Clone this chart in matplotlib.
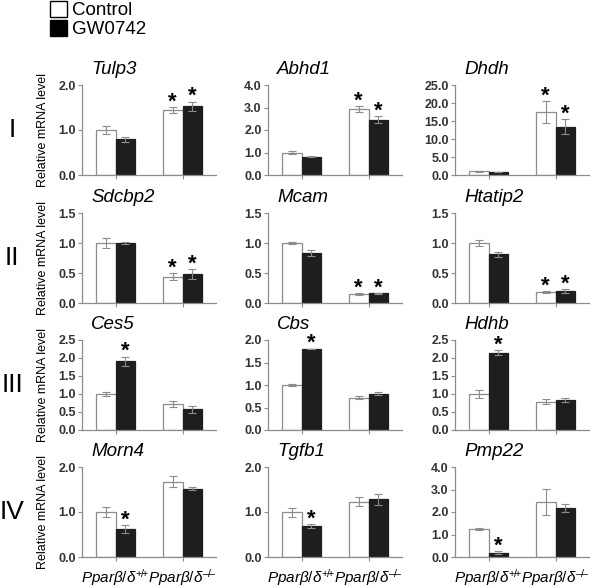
import matplotlib
matplotlib.use('Agg')
import matplotlib.pyplot as plt
from matplotlib.patches import Patch
from matplotlib.ticker import FormatStrFormatter
import numpy as np

plt.rcParams['font.family'] = ['Liberation Sans', 'DejaVu Sans']
plt.rcParams['mathtext.fontset'] = 'custom'
plt.rcParams['mathtext.rm'] = 'Liberation Sans'
plt.rcParams['mathtext.it'] = 'Liberation Sans:italic'

# values: [Ppar+/+, Ppar-/-] for each gene
genes = ['Tulp3', 'Abhd1', 'Dhdh', 'Sdcbp2', 'Mcam', 'Htatip2',
         'Ces5', 'Cbs', 'Hdhb', 'Morn4', 'Tgfb1', 'Pmp22']
control = [[1.0, 1.44], [1.0, 2.92], [1.0, 17.5],
           [1.0, 0.44], [1.0, 0.15], [1.0, 0.18],
           [1.0, 0.72], [1.0, 0.72], [1.0, 0.79],
           [1.0, 1.67], [1.0, 1.23], [1.26, 2.46]]
control_err = [[0.08, 0.07], [0.05, 0.13], [0.1, 3.0],
               [0.08, 0.06], [0.02, 0.02], [0.05, 0.02],
               [0.05, 0.08], [0.03, 0.03], [0.1, 0.07],
               [0.11, 0.12], [0.1, 0.1], [0.05, 0.58]]
gw = [[0.79, 1.53], [0.82, 2.46], [0.75, 13.4],
      [1.0, 0.48], [0.84, 0.16], [0.81, 0.2],
      [1.91, 0.57], [1.8, 0.81], [2.14, 0.83],
      [0.62, 1.52], [0.69, 1.28], [0.2, 2.18]]
gw_err = [[0.05, 0.1], [0.03, 0.15], [0.05, 2.1],
          [0.01, 0.08], [0.05, 0.01], [0.04, 0.03],
          [0.13, 0.1], [0.01, 0.03], [0.07, 0.05],
          [0.09, 0.03], [0.04, 0.13], [0.05, 0.18]]
star_control = [[0, 1], [0, 1], [0, 1], [0, 1], [0, 1], [0, 1],
                [0, 0], [0, 0], [0, 0], [0, 0], [0, 0], [0, 0]]
star_gw = [[0, 1], [0, 1], [0, 1], [0, 1], [0, 1], [0, 1],
           [1, 0], [1, 0], [1, 0], [1, 0], [1, 0], [1, 0]]
ymax = [2.0, 4.0, 25.0, 1.5, 1.5, 1.5, 2.5, 2.0, 2.5, 2.0, 2.0, 4.0]
ystep = [1.0, 1.0, 5.0, 0.5, 0.5, 0.5, 0.5, 0.5, 0.5, 1.0, 1.0, 1.0]
rows = ['I', 'II', 'III', 'IV']
groups = [r'$Ppar\beta/\delta^{{+}\!/\!{+}}$', '$Ppar\\beta/\\delta^{{\u2013}\\!/\\!{\u2013}}$']

gray = '#8c8c8c'
dark = '#1e1e1e'
W, H = 600.0, 588.0
col_left = [82, 268, 455]
row_top = [85, 213, 340, 467]
aw, ah = 134, 90
bw = 0.29

fig = plt.figure(figsize=(6, 5.88), dpi=100)

for i in range(len(genes)):
    r, c = divmod(i, 3)
    ax = fig.add_axes([col_left[c] / W, 1 - (row_top[r] + ah) / H, aw / W, ah / H])
    x = np.arange(2)
    ax.bar(x - bw / 2, control[i], bw, color='white', edgecolor=gray, linewidth=0.9, zorder=2)
    ax.bar(x + bw / 2, gw[i], bw, color=dark, edgecolor=dark, linewidth=0.9, zorder=2)
    ax.errorbar(x - bw / 2, control[i], yerr=control_err[i], fmt='none', ecolor=gray,
                elinewidth=0.8, capsize=3, capthick=0.8, zorder=3)
    ax.errorbar(x + bw / 2, gw[i], yerr=gw_err[i], fmt='none', ecolor=gray,
                elinewidth=0.8, capsize=3, capthick=0.8, zorder=3)
    for k in range(2):
        if star_control[i][k]:
            ax.annotate('*', (k - bw / 2, control[i][k] + control_err[i][k]), xytext=(0, -4),
                        textcoords='offset points', ha='center', va='bottom',
                        fontsize=16, fontweight='bold')
        if star_gw[i][k]:
            ax.annotate('*', (k + bw / 2, gw[i][k] + gw_err[i][k]), xytext=(0, -4),
                        textcoords='offset points', ha='center', va='bottom',
                        fontsize=16, fontweight='bold')
    ax.set_xlim(-0.5, 1.5)
    ax.set_ylim(0, ymax[i])
    ax.set_yticks(np.arange(0, ymax[i] + ystep[i] / 2, ystep[i]))
    ax.yaxis.set_major_formatter(FormatStrFormatter('%.1f'))
    ax.set_xticks(x)
    if r == 3:
        ax.set_xticklabels(groups, fontsize=11)
    else:
        ax.set_xticklabels([])
    for s in ['top', 'right']:
        ax.spines[s].set_visible(False)
    for s in ['left', 'bottom']:
        ax.spines[s].set_color(gray)
        ax.spines[s].set_linewidth(0.9)
    ax.tick_params(axis='y', length=3, color=gray, labelsize=9, labelcolor='#333333', pad=1.5)
    ax.tick_params(axis='x', length=3, color=gray, pad=4)
    for lab in ax.get_yticklabels():
        lab.set_fontweight('bold')
    ax.text(-0.36, 1.12, genes[i], transform=ax.get_xaxis_transform(), ha='left',
            va='baseline', fontsize=13.5, style='italic')

for r, name in enumerate(rows):
    yc = 1 - (row_top[r] + ah / 2) / H
    fig.text(43 / W, yc, 'Relative mRNA level', rotation=90, ha='center', va='center', fontsize=9)
    fig.text(12 / W, yc, name, ha='center', va='center', fontsize=19)

handles = [Patch(facecolor='white', edgecolor='black', linewidth=1),
           Patch(facecolor='black', edgecolor='black', linewidth=1)]
fig.legend(handles, ['Control', 'GW0742'], loc='upper left', bbox_to_anchor=(50 / W, 1 - 1 / H),
           frameon=False, fontsize=13.5, handlelength=0.9, handleheight=0.9,
           handletextpad=0.25, labelspacing=0.05, borderpad=0, borderaxespad=0)

fig.savefig('out.png', dpi=100)
